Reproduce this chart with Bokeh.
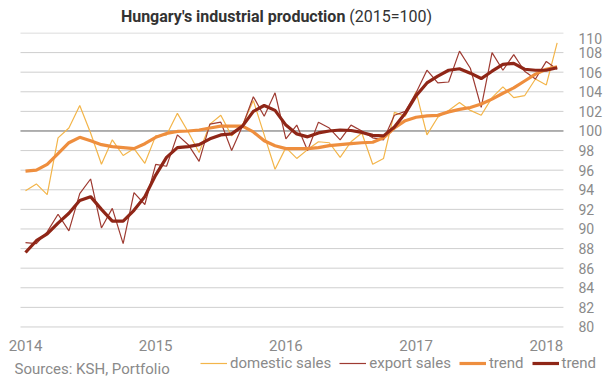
from bokeh.plotting import figure
from bokeh.models import Range1d, FixedTicker, Legend, LegendItem, Div, Label
from bokeh.layouts import column
from bokeh.embed import file_html
from bokeh.resources import INLINE

# Monthly index, Jan 2014 - Feb 2018 (2015=100)
months = list(range(50))
tick_positions = [0, 12, 24, 36, 48]
tick_labels = ["2014", "2015", "2016", "2017", "2018"]
y_ticks = list(range(80, 111, 2))

domestic_sales = [93.9, 94.6, 93.5, 99.3, 100.3, 102.6, 99.8, 96.6, 99.1, 97.5,
                  98.2, 96.7, 99.5, 99.6, 101.8, 99.9, 97.8, 100.7, 101.6, 99.5,
                  100.6, 103.1, 99.6, 96.1, 98.3, 97.2, 98.1, 98.9, 98.8, 97.3,
                  98.9, 99.8, 96.6, 97.2, 101.9, 101.5, 104.0, 99.6, 101.4, 102.1,
                  102.9, 102.1, 101.6, 103.4, 104.5, 103.4, 103.6, 105.3, 104.7, 109.0]

export_sales = [88.6, 88.5, 89.7, 91.5, 89.8, 93.6, 95.1, 90.1, 92.1, 88.5,
                93.7, 92.5, 96.6, 96.4, 99.6, 98.6, 96.9, 100.7, 100.9, 98.0,
                100.5, 103.5, 101.5, 103.9, 99.2, 100.6, 98.0, 100.9, 100.3, 99.1,
                100.6, 100.0, 99.3, 99.1, 101.6, 102.0, 103.9, 106.2, 104.9, 105.0,
                108.15, 106.4, 102.4, 108.0, 106.2, 107.8, 106.1, 105.3, 107.1, 106.3]

domestic_trend = [95.9, 96.0, 96.6, 97.7, 98.8, 99.35, 99.0, 98.6, 98.4, 98.3,
                  98.2, 98.7, 99.35, 99.75, 99.95, 100.0, 100.1, 100.3, 100.5, 100.5,
                  100.5, 99.9, 99.0, 98.5, 98.2, 98.2, 98.2, 98.3, 98.5, 98.6,
                  98.7, 98.8, 98.85, 99.3, 100.3, 101.05, 101.4, 101.55, 101.6, 101.95,
                  102.2, 102.4, 102.75, 103.25, 103.85, 104.4, 105.1, 105.8, 106.3, 106.55]

export_trend = [87.6, 88.8, 89.5, 90.6, 91.6, 92.9, 93.3, 92.0, 90.8, 90.8,
                91.9, 93.3, 95.5, 97.3, 98.3, 98.4, 98.6, 99.2, 99.6, 99.7,
                100.5, 102.0, 102.6, 102.1, 100.6, 99.7, 99.4, 99.8, 100.0, 100.1,
                100.05, 99.85, 99.55, 99.5, 100.4, 101.8, 103.6, 104.9, 105.6, 106.2,
                106.35, 105.9, 105.35, 106.1, 106.8, 106.9, 106.3, 106.2, 106.2, 106.45]

title_bold = "Hungary's industrial production"
title_normal = "(2015=100)"
source_text = "Sources: KSH, Portfolio"

C_DOM = "#F3B54A"
C_EXP = "#9E3B32"
C_DOM_T = "#EE8E3E"
C_EXP_T = "#8F2617"
GRAY = "#8a8a8a"
FONT = "Roboto"

# plot-area extent (data units) used for grid lines and the fixed axes
X_START, X_END = -0.46, 49.58

header = Div(text=('<div style="font-family:Roboto; font-size:16px; color:#333333; '
                   'text-align:center; padding-top:7px; box-sizing:border-box; '
                   'width:553px; line-height:20px; white-space:nowrap;">'
                   f'<b>{title_bold}</b> {title_normal}</div>'),
             width=604, height=32, margin=0)

p = figure(width=604, height=346, output_backend="svg", toolbar_location=None,
           x_range=Range1d(-2.304, 53.364), y_range=Range1d(74.74, 110.05),
           y_axis_location="right", margin=0,
           min_border_left=0, min_border_right=0, min_border_top=0, min_border_bottom=0)
p.outline_line_color = None
p.background_fill_color = "white"
p.border_fill_color = "white"
p.xgrid.visible = False
p.ygrid.visible = False

# horizontal grid lines over the plot area, and the 100 reference line
p.segment(x0=X_START, x1=X_END, y0=y_ticks, y1=y_ticks, line_color="#cfcfcf", line_width=1)
p.segment(x0=[X_START], x1=[X_END], y0=[100], y1=[100], line_color="#7a7a7a", line_width=1)

p.yaxis.ticker = FixedTicker(ticks=y_ticks)
p.yaxis.fixed_location = X_END
p.yaxis.axis_line_color = None
p.yaxis.major_tick_line_color = None
p.yaxis.minor_tick_line_color = None
p.yaxis.major_tick_out = 0
p.yaxis.major_tick_in = 0
p.yaxis.minor_tick_out = 0
p.yaxis.major_label_text_font = FONT
p.yaxis.major_label_text_font_size = "14px"
p.yaxis.major_label_text_color = GRAY
p.yaxis.major_label_standoff = 15

p.xaxis.ticker = FixedTicker(ticks=tick_positions)
p.xaxis.major_label_overrides = {t: l for t, l in zip(tick_positions, tick_labels)}
p.xaxis.fixed_location = 80
p.xaxis.axis_line_color = None
p.xaxis.major_tick_line_color = None
p.xaxis.minor_tick_line_color = None
p.xaxis.major_label_text_font = FONT
p.xaxis.major_label_text_font_size = "15px"
p.xaxis.major_label_text_color = GRAY
p.xaxis.major_label_standoff = 7

r1 = p.line(months, domestic_sales, line_color=C_DOM, line_width=1.2)
r2 = p.line(months, export_sales, line_color=C_EXP, line_width=1.2)
r3 = p.line(months, domestic_trend, line_color=C_DOM_T, line_width=3.2)
r4 = p.line(months, export_trend, line_color=C_EXP_T, line_width=3.2)

legend = Legend(items=[LegendItem(label="domestic sales", renderers=[r1]),
                       LegendItem(label="export sales", renderers=[r2]),
                       LegendItem(label="trend", renderers=[r3]),
                       LegendItem(label="trend", renderers=[r4])],
                orientation="horizontal", location=(200, 6),
                glyph_width=27, glyph_height=14, label_standoff=3, spacing=8,
                padding=0, margin=0, border_line_color=None, background_fill_alpha=0,
                label_text_font=FONT, label_text_font_size="15px", label_text_color=GRAY)
p.add_layout(legend, "center")

p.add_layout(Label(x=-1.01, y=75.66, text=source_text, text_font=FONT,
                   text_font_size="15px", text_color=GRAY, text_align="left",
                   text_baseline="alphabetic"))

open("out.html", "w").write(file_html(column(header, p, spacing=0), INLINE))
